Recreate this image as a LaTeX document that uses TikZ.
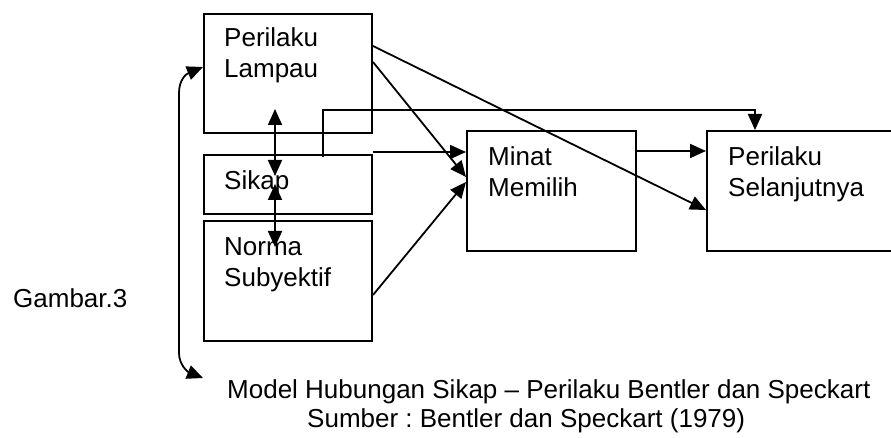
\documentclass[tikz,border=0pt]{standalone}
\usepackage{fontspec}
\setmainfont{Liberation Sans}
\usetikzlibrary{arrows.meta}
\frenchspacing
\begin{document}
\begin{tikzpicture}[x=1pt,y=-1pt,
  box/.style={draw, line width=2pt, rectangle, inner sep=0pt, anchor=north west},
  lbl/.style={anchor=base west, align=left, inner sep=0pt, font=\fontsize{26}{31}\selectfont},
  conn/.style={line width=1.8pt, -{Triangle[length=16pt,width=14pt]}},
  conntwo/.style={line width=1.8pt, {Triangle[length=16pt,width=14pt]}-{Triangle[length=16pt,width=14pt]}},
  ]
\useasboundingbox (0,0) rectangle (891,438);
% boxes
\node[box, minimum width=168pt, minimum height=119pt] (pl) at (203,13) {};
\node[box, minimum width=168pt, minimum height=59pt] (sk) at (203,154) {};
\node[box, minimum width=168pt, minimum height=120pt] (nm) at (203,220) {};
\node[box, minimum width=169pt, minimum height=120pt] (mm) at (466,130) {};
\node[box, minimum width=200pt, minimum height=120pt] (ps) at (706,130) {};
% texts (anchor = baseline of last line)
\node[lbl] (plt) at (224,78) {Perilaku\\Lampau};
\node[lbl] (skt) at (224,190) {Sikap};
\node[lbl] (nmt) at (224,287) {Norma\\Subyektif};
\node[lbl] (mmt) at (488,197) {Minat\\Memilih};
\node[lbl] (pst) at (728,197) {Perilaku\\Selanjutnya};
\node[lbl] (gb) at (13,307) {Gambar.3};
\node[lbl] (cap1) at (227,398) {Model Hubungan Sikap – Perilaku Bentler dan Speckart};
\node[lbl] (cap2) at (307,427) {Sumber : Bentler dan Speckart (1979)};
% connectors
\draw[conn] ([yshift=-33pt]pl.north east) -- ([yshift=-80pt]ps.north west);
\draw[conn] ([yshift=-49pt]pl.north east) -- ([yshift=-47pt]mm.north west);
\draw[conn] ([yshift=-75pt]nm.north east) -- ([yshift=-52pt]mm.north west);
\draw[conn] ([yshift=2pt]sk.north east) -- ([yshift=-22pt]mm.north west);
\draw[conn] ([yshift=-21pt]mm.north east) -- ([yshift=-21pt]ps.north west);
\coordinate (loopc) at (755,110);
\draw[conn] ([xshift=120pt,yshift=-3pt]sk.north west) |- (loopc) -- ([xshift=49pt]ps.north west);
\draw[conntwo] ([xshift=72pt,yshift=25pt]pl.south west) -- ([xshift=72pt,yshift=-22pt]sk.north west);
\draw[conntwo] ([xshift=72pt,yshift=-30pt]sk.north west) -- ([xshift=72pt,yshift=-27pt]nm.north west);
% left curved double arrow
\coordinate (lt) at (203,67);
\coordinate (lb) at (203,378);
\draw[conntwo] (lt) .. controls (186,74) and (179,80) .. (179,93) -- (179,353) .. controls (179,365) and (188,372) .. (lb);
\end{tikzpicture}
\end{document}
